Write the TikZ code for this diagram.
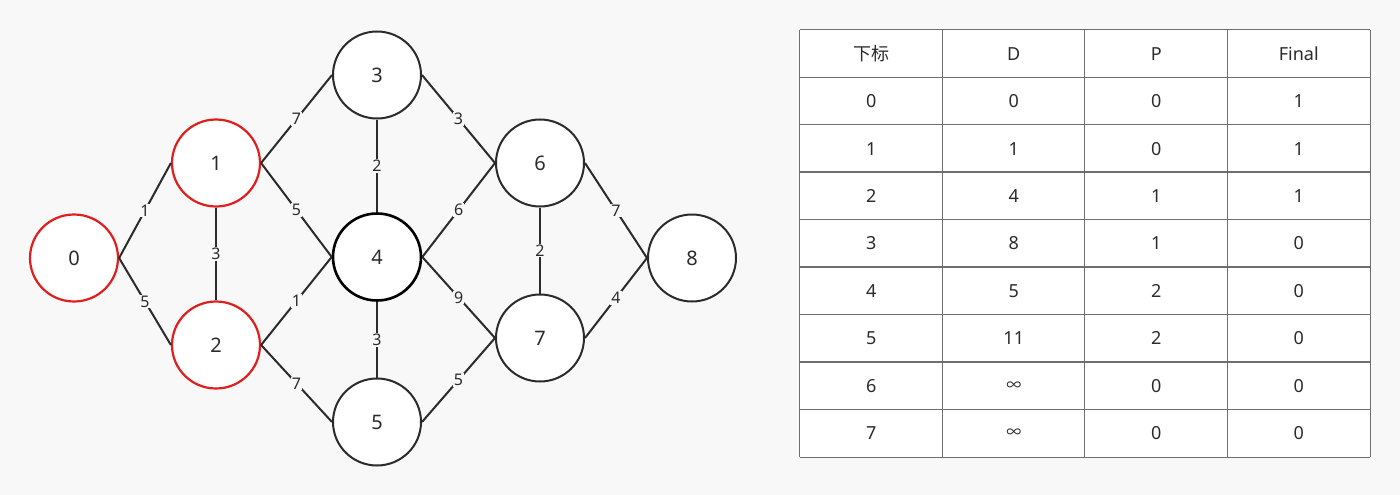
\documentclass[tikz,border=0pt]{standalone}
\usepackage{fontspec}
\setmainfont{Noto Sans}
\newfontfamily\cjk{Noto Sans CJK SC}
\usetikzlibrary{shapes.geometric}
\definecolor{bg}{HTML}{F8F8F8}
\definecolor{ink}{HTML}{2B2B2B}
\definecolor{redline}{HTML}{E01E1E}
\definecolor{gridc}{HTML}{6E6E6E}
\newcommand{\infsym}{{\cjk\fontsize{15}{15}\selectfont ∞}}
\begin{document}
\begin{tikzpicture}[x=1pt,y=-1pt,
  vert/.style={ellipse, draw=ink, line width=2pt, fill=white, minimum width=88pt, minimum height=87pt, inner sep=0pt, font=\fontsize{20}{20}\selectfont, text=ink},
  redv/.style={vert, draw=redline, line width=2.2pt},
  thickv/.style={vert, draw=black, line width=2.6pt},
  edge/.style={draw=ink, line width=2pt},
  wt/.style={fill=bg, inner sep=1pt, font=\fontsize{16}{16}\selectfont, text=ink},
  cell/.style={rectangle, fill=white, minimum width=142.5pt, minimum height=47.44pt, inner sep=0pt, font=\fontsize{18}{18}\selectfont, text=ink},
  rule/.style={draw=gridc, line width=1.3pt}]
\fill[bg] (0,0) rectangle (1400,495);
\useasboundingbox (0,0) rectangle (1400,495);
% vertices
\node[redv] (n0) at (74,258) {0};
\node[redv] (n1) at (216,163) {1};
\node[redv] (n2) at (216,345) {2};
\node[vert] (n3) at (377,75) {3};
\node[thickv] (n4) at (377,257) {4};
\node[vert] (n5) at (377,422) {5};
\node[vert] (n6) at (540,163) {6};
\node[vert] (n7) at (540,338) {7};
\node[vert] (n8) at (692,258) {8};
% edges
\draw[edge] (n0.east) -- node[wt]{1} (n1.west);
\draw[edge] (n0.east) -- node[wt]{5} (n2.west);
\draw[edge] (n1.south) -- node[wt]{3} (n2.north);
\draw[edge] (n1.east) -- node[wt]{7} (n3.west);
\draw[edge] (n1.east) -- node[wt]{5} (n4.west);
\draw[edge] (n2.east) -- node[wt]{1} (n4.west);
\draw[edge] (n2.east) -- node[wt]{7} (n5.west);
\draw[edge] (n3.south) -- node[wt]{2} (n4.north);
\draw[edge] (n4.south) -- node[wt]{3} (n5.north);
\draw[edge] (n3.east) -- node[wt]{3} (n6.west);
\draw[edge] (n4.east) -- node[wt]{6} (n6.west);
\draw[edge] (n4.east) -- node[wt]{9} (n7.west);
\draw[edge] (n5.east) -- node[wt]{5} (n7.west);
\draw[edge] (n6.south) -- node[wt]{2} (n7.north);
\draw[edge] (n6.east) -- node[wt]{7} (n8.west);
\draw[edge] (n7.east) -- node[wt]{4} (n8.west);
% table
\foreach \r/\ta/\tb/\tc/\td in {0/{\cjk 下标}/D/P/Final,1/0/0/0/1,2/1/1/0/1,3/2/4/1/1,4/3/8/1/0,5/4/5/2/0,6/5/11/2/0,7/6/\infsym/0/0,8/7/\infsym/0/0}{
  \node[cell] (t\r-0) at ({800+142.5*0.5},{30+47.44*(\r+0.5)}) {\ta};
  \node[cell] (t\r-1) at ({800+142.5*1.5},{30+47.44*(\r+0.5)}) {\tb};
  \node[cell] (t\r-2) at ({800+142.5*2.5},{30+47.44*(\r+0.5)}) {\tc};
  \node[cell] (t\r-3) at ({800+142.5*3.5},{30+47.44*(\r+0.5)}) {\td};
}
% table rules
\foreach \r in {0,...,8} { \draw[rule] (t\r-0.north west) -- (t\r-3.north east); }
\draw[rule] (t8-0.south west) -- (t8-3.south east);
\foreach \c in {0,...,3} { \draw[rule] (t0-\c.north west) -- (t8-\c.south west); }
\draw[rule] (t0-3.north east) -- (t8-3.south east);
\end{tikzpicture}
\end{document}
